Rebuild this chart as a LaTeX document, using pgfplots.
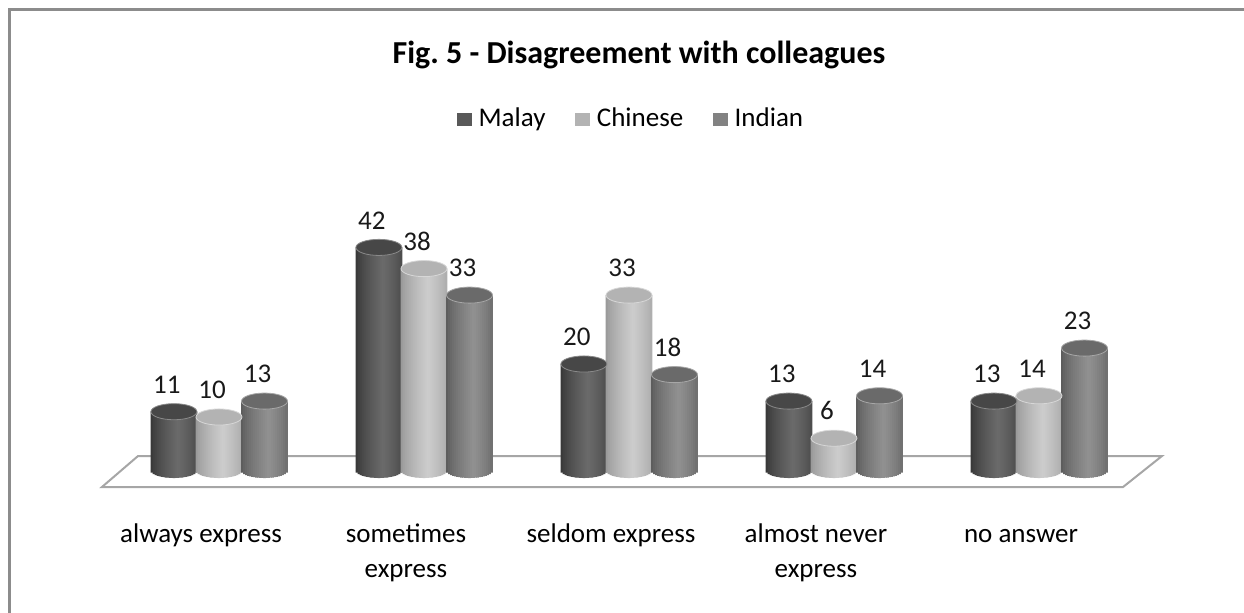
\documentclass[border=0pt]{standalone}
\usepackage{pgfplots}
\pgfplotsset{compat=1.18}
\usepackage{pgfplotstable}
\usepackage{fontspec}
\setmainfont{Carlito}
\definecolor{malayL}{HTML}{343434}
\definecolor{malayM}{HTML}{6B6B6B}
\definecolor{malayR}{HTML}{4A4A4A}
\definecolor{malayC}{HTML}{474747}
\definecolor{malayG}{HTML}{595959}
\definecolor{chinL}{HTML}{959595}
\definecolor{chinM}{HTML}{CDCDCD}
\definecolor{chinR}{HTML}{AAAAAA}
\definecolor{chinC}{HTML}{B3B3B3}
\definecolor{chinG}{HTML}{B3B3B3}
\definecolor{indL}{HTML}{585858}
\definecolor{indM}{HTML}{919191}
\definecolor{indR}{HTML}{6C6C6C}
\definecolor{indC}{HTML}{6A6A6A}
\definecolor{indG}{HTML}{828282}

\pgfplotstableread{
x y
0.78 11
1.78 42
2.78 20
3.78 13
4.78 13
}\malay
\pgfplotstableread{
x y
1 10
2 38
3 33
4 6
5 14
}\chinese
\pgfplotstableread{
x y
1.222 13
2.222 33
3.222 18
4.222 14
5.222 23
}\indian

% a cylinder body made of 23 narrow ybar stripes of the same data,
% each with a short stripe below the base that rounds the bottom
\newcommand{\cylinder}[4]{%
  \pgfplotsinvokeforeach{0,...,22}{%
    \pgfmathsetmacro\tpos{(##1+0.5)/23}%
    \pgfmathsetmacro\shft{(##1-11)*1.0}%
    \pgfmathsetmacro\dep{1.509*sqrt(1-((##1-11)/11.6)^2)}%
    \ifnum##1<14
      \pgfmathtruncatemacro\pct{100*((\tpos/0.6)^0.7)}%
      \edef\tmpcol{#3!\pct!#2}%
    \else
      \pgfmathtruncatemacro\pct{100*((1-(\tpos-0.6)/0.4)^0.7)}%
      \edef\tmpcol{#3!\pct!#4}%
    \fi
    \edef\tmp{\noexpand\addplot[forget plot, ybar, bar width=1.35pt, bar shift=\shft pt, draw=none, fill=\tmpcol] table[x=x,y=y]{\noexpand#1};
      \noexpand\addplot[forget plot, ybar, bar width=1.35pt, bar shift=\shft pt, draw=none, fill=\tmpcol] table[x=x,y expr=-\dep]{\noexpand#1};}%
    \tmp
  }%
}
\begin{document}
\begin{tikzpicture}[x=1pt,y=1pt]
\path[use as bounding box] (0,0) rectangle (622,306);
\draw[line width=1.2pt, color=black!45] (4.8,-2) -- (4.8,301.3) -- (624,301.3);
\node[font=\fontsize{16}{19}\selectfont\bfseries] at (319.5,278.5) {Fig.\ 5 - Disagreement with colleagues};
\begin{axis}[
  at={(48pt,71pt)}, anchor=south west, scale only axis,
  width=533pt, height=132.5pt,
  xmin=0.4, xmax=5.6, ymin=0, ymax=50,
  clip=false,
  axis line style={draw=none}, tick style={draw=none},
  ytick=\empty, xtick={1,2,3,4,5},
  xticklabels={\strut always express, {\strut sometimes\\express}, \strut seldom express, {\strut almost never\\express}, \strut no answer},
  xticklabel style={align=center, font=\fontsize{13.5}{17.5}\selectfont, anchor=north, yshift=-20.5pt, xshift=-9pt},
  /pgf/number format/assume math mode=true,
  legend columns=3,
  legend style={at={(0.503,1.325)}, anchor=center, draw=none, fill=none,
    font=\fontsize{13.5}{15}\selectfont,
    /tikz/every odd column/.append style={column sep=1.5pt},
    /tikz/every even column/.append style={column sep=13pt}},
  legend image code/.code={\fill[#1, draw=none] (0pt,-3.8pt) rectangle (7.2pt,2.8pt);},
  every node near coord/.append style={font=\fontsize{13.5}{16}\selectfont, anchor=south, yshift=9pt, xshift=-3.5pt, inner sep=0pt, text=black!90},
]
\addlegendimage{fill=malayG, draw=none}\addlegendentry{Malay}
\addlegendimage{fill=chinG, draw=none}\addlegendentry{Chinese}
\addlegendimage{fill=indG, draw=none}\addlegendentry{Indian}

\draw[line width=1pt, color=black!35, fill=white] (axis cs:0.605,2.64) -- (axis cs:5.6,2.64) -- (axis cs:5.41,-3.21) -- (axis cs:0.429,-3.21) -- cycle;

\cylinder{\malay}{malayL}{malayM}{malayR}
\cylinder{\chinese}{chinL}{chinM}{chinR}
\cylinder{\indian}{indL}{indM}{indR}

% caps with labels
\addplot[forget plot, only marks, mark=*, mark size=11.5pt, mark options={yscale=0.35, fill=malayC, draw=malayM!80!white, line width=0.4pt}, nodes near coords] table[x=x,y=y]{\malay};
\addplot[forget plot, only marks, mark=*, mark size=11.5pt, mark options={yscale=0.35, fill=chinC, draw=chinM!80!white, line width=0.4pt}, nodes near coords] table[x=x,y=y]{\chinese};
\addplot[forget plot, only marks, mark=*, mark size=11.5pt, mark options={yscale=0.35, fill=indC, draw=indM!80!white, line width=0.4pt}, nodes near coords] table[x=x,y=y]{\indian};
\end{axis}
\end{tikzpicture}
\end{document}
